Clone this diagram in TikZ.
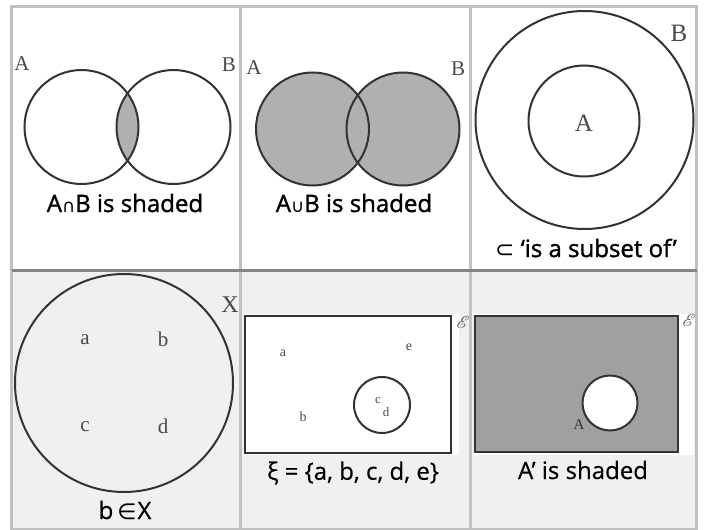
\documentclass[tikz,border=0pt]{standalone}
\usepackage{fontspec}
\usepackage{mathrsfs}
\setmainfont{Open Sans}
\newfontfamily\capfont{Open Sans}[FakeBold=1.4]
\newfontfamily\capfontlight{Open Sans}[FakeBold=0.4]
\newfontfamily\labserif{Liberation Serif}
\newfontfamily\symfont{DejaVu Sans}
\definecolor{gridgray}{HTML}{C0C0C0}
\definecolor{middark}{HTML}{858585}
\definecolor{rowbg}{HTML}{F0F0F0}
\definecolor{inkline}{HTML}{333333}
\definecolor{shadegray}{HTML}{B0B0B0}
\definecolor{shadedark}{HTML}{A0A0A0}
\definecolor{labgray}{HTML}{4A4A4A}
\tikzset{
  venn/.style={draw=inkline, line width=2pt},
  caption/.style={font=\capfont\fontsize{24}{28}\selectfont, text=black, inner sep=0pt},
  captionlight/.style={font=\capfontlight\fontsize{24}{28}\selectfont, text=black, inner sep=0pt},
  lab/.style={font=\labserif\fontsize{21}{24}\selectfont, text=labgray, inner sep=0pt},
  smalllab/.style={font=\labserif\fontsize{14}{16}\selectfont, text=labgray, inner sep=0pt},
  grid line/.style={draw=gridgray, line width=3pt},
}
\begin{document}
\begin{tikzpicture}[x=1pt, y=-1pt]
\useasboundingbox (0,0) rectangle (704,530);
% backgrounds
\fill[white] (11.5,6.5) rectangle (696.5,270.5);
\fill[rowbg] (11.5,270.5) rectangle (696.5,529);
% ---------- panel 1: intersection ----------
\begin{scope}
  \clip (81.5,127) circle (57);
  \fill[shadegray] (173.5,127) circle (57);
\end{scope}
\draw[venn] (81.5,127) circle (57);
\draw[venn] (173.5,127) circle (57);
\node[lab] (p1A) at (22,64) {A};
\node[lab] (p1B) at (229,65) {B};
\node[caption] (p1cap) at (125,203) {A{\symfont\fontsize{18}{20}\selectfont ∩}B is shaded};
% ---------- panel 2: union ----------
\fill[shadegray] (312.5,129) circle (56.5);
\fill[shadegray] (403,129) circle (56.5);
\draw[venn] (312.5,129) circle (56.5);
\draw[venn] (403,129) circle (56.5);
\node[lab] (p2A) at (254,68) {A};
\node[lab] (p2B) at (458,69) {B};
\node[caption] (p2cap) at (354,203) {A{\symfont\fontsize{18}{20}\selectfont ∪}B is shaded};
% ---------- panel 3: subset ----------
\draw[venn] (584.5,120) circle (109);
\draw[venn] (584,121) circle (55.5);
\node[lab, font=\labserif\fontsize{25}{28}\selectfont] (p3A) at (584,123) {A};
\node[lab, font=\labserif\fontsize{25}{28}\selectfont] (p3B) at (679,33) {B};
\node[caption] (p3cap) at (586,248) {{\symfont\fontsize{23}{24}\selectfont ⊂} ‘is a subset of’};
% ---------- panel 4: element ----------
\draw[venn] (124,383) circle (109);
\node[lab] (p4a) at (85,340) {a};
\node[lab] (p4b) at (163,339) {b};
\node[lab] (p4c) at (85,427) {c};
\node[lab] (p4d) at (163,426) {d};
\node[lab, font=\labserif\fontsize{24}{28}\selectfont] (p4X) at (230,305) {X};
\node[captionlight] (p4cap) at (125,510) {b\hspace{4pt}{\symfont\fontsize{22}{24}\selectfont ∈}\hspace{1pt}X};
% ---------- panel 5: universal set ----------
\fill[white] (244,314) rectangle (459,455);
\draw[venn] (244.5,315.5) rectangle (450.5,453);
\draw[venn] (382,405) circle (28);
\node[smalllab] (p5a) at (283,353) {a};
\node[smalllab] (p5e) at (409,347) {e};
\node[smalllab] (p5b) at (303,417) {b};
\node[smalllab, font=\labserif\fontsize{13}{16}\selectfont] (p5c) at (378,400) {c};
\node[smalllab, font=\labserif\fontsize{13}{16}\selectfont] (p5d) at (386,412) {d};
\node[inner sep=0pt, text=labgray, font=\fontsize{16}{18}\selectfont] (p5E) at (463,322) {$\mathscr{E}$};
\node[captionlight] (p5cap) at (353,473) {ξ = \{a, b, c, d, e\}};
% ---------- panel 6: complement ----------
\fill[white] (474,314) rectangle (694,455);
\fill[shadedark] (474.5,315.5) rectangle (677.5,452);
\fill[white] (610,403) circle (27.5);
\draw[venn] (474.5,315.5) rectangle (677.5,452);
\draw[venn] (610,403) circle (27.5);
\node[smalllab, font=\labserif\fontsize{15}{16}\selectfont, text=inkline] (p6A) at (579,425) {A};
\node[inner sep=0pt, text=labgray, font=\fontsize{16}{18}\selectfont] (p6E) at (689,320) {$\mathscr{E}$};
\node[captionlight] (p6cap) at (583,470) {A’ is shaded};
% ---------- grid ----------
\draw[grid line] (11.5,6.5) rectangle (696.5,529);
\draw[grid line] (240.5,6.5) -- (240.5,529);
\draw[grid line] (470.5,6.5) -- (470.5,529);
\draw[draw=middark, line width=3pt] (11.5,270.5) -- (696.5,270.5);
\end{tikzpicture}
\end{document}
